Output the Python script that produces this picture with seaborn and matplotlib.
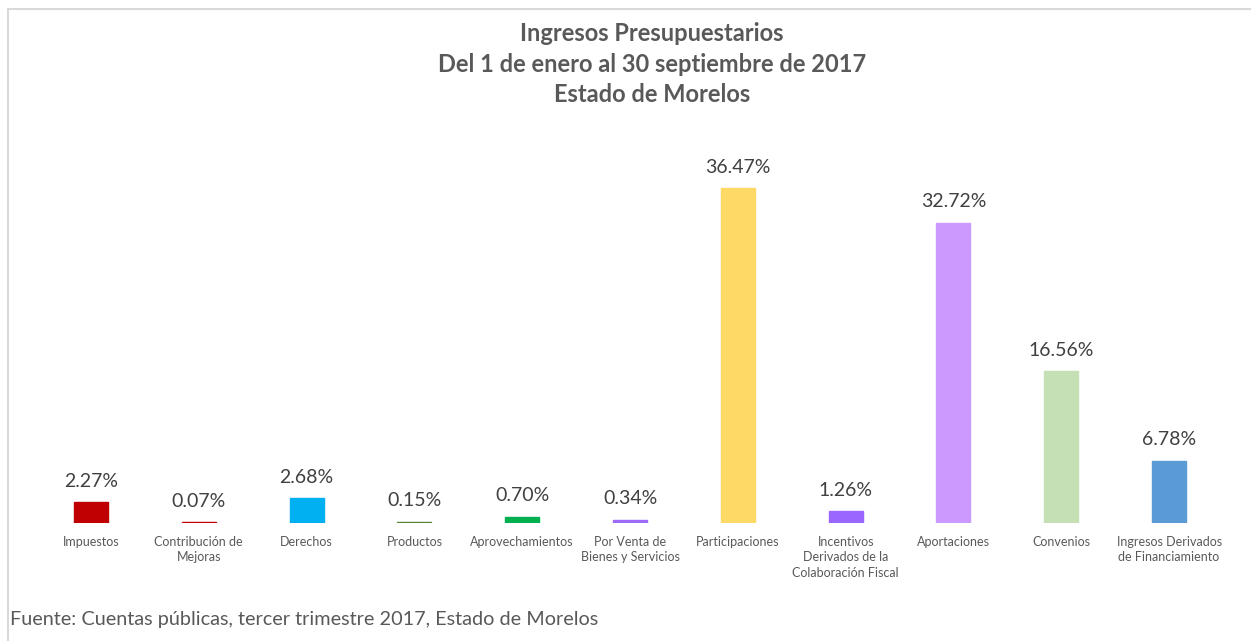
import pandas as pd
import matplotlib.pyplot as plt
import seaborn as sns
from matplotlib.patches import Rectangle

# Datos
categorias = [
    "Impuestos",
    "Contribución de\nMejoras",
    "Derechos",
    "Productos",
    "Aprovechamientos",
    "Por Venta de\nBienes y Servicios",
    "Participaciones",
    "Incentivos\nDerivados de la\nColaboración Fiscal",
    "Aportaciones",
    "Convenios",
    "Ingresos Derivados\nde Financiamiento",
]
porcentajes = [2.27, 0.07, 2.68, 0.15, 0.70, 0.34, 36.47, 1.26, 32.72, 16.56, 6.78]
colores = ["#C00000", "#C00000", "#00B0F0", "#548235", "#00B050", "#9E6AF8",
           "#FFD966", "#9966FF", "#CC99FF", "#C5E0B4", "#5B9BD5"]

df = pd.DataFrame({"categoria": categorias, "porcentaje": porcentajes})

sns.set_style("white")
plt.rcParams["font.family"] = ["Lato", "DejaVu Sans"]
gris = "#595959"

fig = plt.figure(figsize=(12.51, 6.41), dpi=100)
ax = fig.add_axes([0.0296, 0.184, 0.948, 0.5725])

sns.barplot(data=df, x="categoria", y="porcentaje", hue="categoria",
            palette=colores, width=0.315, legend=False, ax=ax, saturation=1,
            linewidth=1)

# borde del mismo color para que las barras pequeñas se vean como línea
for p in ax.patches:
    p.set_edgecolor(p.get_facecolor())

for cont, v in zip(ax.containers, porcentajes):
    ax.bar_label(cont, labels=[f"{v:.2f}%"], padding=9, fontsize=14, color="#404040")

ax.set_xlim(-0.5, len(categorias) - 0.5)
ax.set_ylim(0, 40)
ax.set_xlabel("")
ax.set_ylabel("")
ax.set_yticks([])
ax.tick_params(axis="x", length=0, pad=9, labelsize=9, labelcolor=gris)
for lbl in ax.get_xticklabels():
    lbl.set_linespacing(1.35)
sns.despine(ax=ax, left=True, bottom=True)

# Título
fig.text(652 / 1251, 1 - 22 / 641,
         "Ingresos Presupuestarios\nDel 1 de enero al 30 septiembre de 2017\nEstado de Morelos",
         ha="center", va="top", fontsize=17, fontweight="bold", color=gris, linespacing=1.4)

# Fuente
fig.text(10 / 1251, 1 - 620 / 641, "Fuente: Cuentas públicas, tercer trimestre 2017, Estado de Morelos",
         ha="left", va="center", fontsize=14.3, color=gris)

# Borde del área del gráfico
fig.patches.append(Rectangle((8 / 1251, -0.05), 1.1, 1 - 9 / 641 + 0.05,
                             transform=fig.transFigure, fill=False,
                             edgecolor="#D9D9D9", linewidth=1.5))

plt.savefig("out.png", dpi=100)
